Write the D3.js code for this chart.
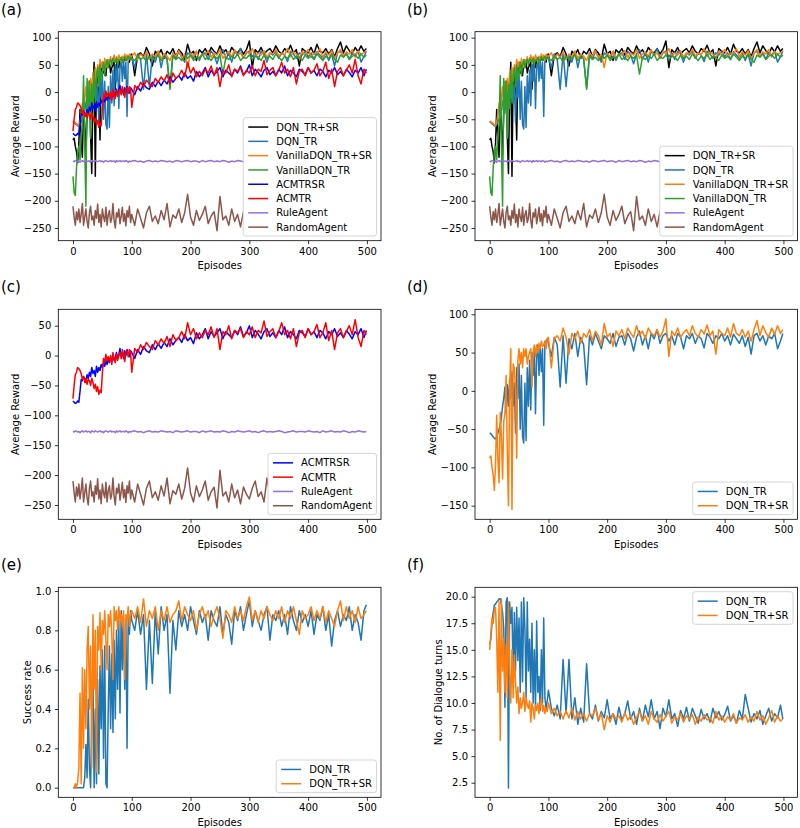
<!DOCTYPE html>
<html><head><meta charset="utf-8">
<script src="https://cdn.jsdelivr.net/npm/d3@7"></script>
<style>
body{margin:0;background:#fff}
svg{display:block}
text{font-family:"DejaVu Sans",sans-serif;fill:#000}
</style>
</head><body>
<svg id="chart" width="800" height="828"></svg>
<script>
// x positions of the samples: every 2 episodes up to 98, then every 5, then the last episode
const episodes = [...d3.range(0, 100, 2), ...d3.range(100, 500, 5), 499];

const dqnTrSr = [
-88,-85,-100,-110,-130,-95,-32,-90,-120,-28,
-60,-115,-40,-30,20,-80,-150,5,55,-155,
35,30,0,-88,40,55,35,50,30,55,
45,55,35,45,50,55,5,50,60,45,
60,50,62,55,65,58,60,65,55,68,
70,30,68,72,65,82,70,48,75,68,
78,62,75,70,80,65,78,72,60,88,
70,75,58,78,72,80,68,82,75,70,
85,72,78,68,82,75,72,80,70,78,
94,45,78,72,82,70,76,80,72,85,
75,70,80,74,86,72,78,48,80,75,
72,82,70,88,75,72,80,70,78,65,
80,92,72,85,76,70,82,74,85,75,
80];
const dqnTr = [
-55,-56,-58,-60,-62,-63,-60,-55,-50,-45,
-35,-20,-10,5,-30,8,-20,15,-10,25,
-20,10,-55,30,-10,35,-50,20,-60,-68,
10,-65,30,-20,40,-25,50,20,55,-30,
45,60,20,60,25,55,-45,60,65,68,
62,45,70,60,5,72,10,68,55,75,
45,70,60,8,72,60,75,65,55,72,
68,62,75,58,70,72,60,75,68,52,
70,78,60,72,55,75,68,80,62,72,
75,65,72,60,75,70,55,72,68,75,
62,72,68,56,75,70,62,72,68,75,
65,72,60,74,68,62,72,58,70,48,
72,75,65,72,60,72,68,75,55,65,
75];
const vanillaTrSr = [
-53,-55,-56,-58,-60,-62,-55,-40,-20,-45,
-10,10,-30,20,-15,25,0,35,10,45,
20,50,35,60,45,55,40,62,50,45,
60,55,65,52,60,68,55,65,58,68,
62,55,66,60,70,62,68,58,70,65,
66,72,60,70,64,74,60,70,65,75,
62,70,66,58,72,66,76,62,70,45,
72,66,75,62,70,68,76,64,72,68,
78,62,70,74,65,78,68,72,62,75,
70,80,65,72,68,76,64,72,70,78,
66,72,68,80,65,74,70,62,75,68,
78,65,72,70,80,64,74,68,76,62,
72,78,66,74,70,78,64,75,70,72,
76];
const vanillaTr = [
-155,-185,-190,-140,-110,-100,-125,-80,-60,30,
-100,-210,25,-40,20,-85,15,-30,40,-20,
30,45,10,50,20,40,55,30,50,60,
45,55,60,50,62,58,55,62,50,60,
58,64,55,60,65,58,62,66,60,64,
62,58,66,60,64,56,66,60,62,68,
58,64,62,5,66,60,64,58,66,62,
68,58,64,62,70,60,64,58,66,62,
68,33,64,60,66,62,70,58,64,62,
68,60,66,64,58,68,62,66,60,70,
64,58,66,62,70,60,66,64,58,68,
62,66,60,70,64,58,66,62,70,60,
55,68,64,70,60,66,68,62,70,64,
68];
const acmtrsr = [
-76,-78,-80,-79,-76,-78,-60,-40,-42,-35,
-40,-45,-32,-38,-28,-35,-20,-30,-25,-35,
-18,-28,-20,-25,-15,-20,-12,-18,-8,-15,
-5,-12,-2,-10,0,-8,-3,5,-5,2,
12,-2,5,-5,8,0,10,3,-2,8,
5,-5,10,2,15,8,5,18,10,20,
12,22,15,28,18,25,30,22,35,25,
30,20,38,28,35,45,28,40,32,38,
45,28,40,35,30,42,35,48,32,38,
50,30,42,36,28,40,45,32,38,30,
42,35,48,30,40,35,28,42,38,32,
45,35,40,30,42,38,28,40,35,45,
32,38,30,42,36,28,40,35,45,30,
42];
const acmtr = [
-72,-50,-32,-28,-20,-22,-25,-30,-40,-35,
-45,-38,-48,-40,-42,-50,-38,-45,-55,-48,
-60,-52,-65,-58,-62,-30,-5,-12,2,-8,
-2,-10,0,-15,5,-5,-12,2,-8,0,
5,-5,10,2,-10,5,8,-2,10,5,
-28,12,5,18,10,22,15,10,25,18,
28,20,32,15,35,25,30,40,28,55,
35,45,28,38,30,42,35,48,30,45,
10,40,35,50,28,42,38,45,30,40,
35,48,30,42,38,58,32,40,45,30,
40,55,35,42,28,45,15,38,42,30,
45,35,40,52,30,38,55,25,42,10,
38,45,30,40,50,35,60,30,15,42,
35];
const ruleAgent = [
-127,-128,-126,-127,-128,-127,-129,-127,-126,-128,
-127,-126,-128,-127,-127,-129,-126,-127,-128,-126,
-127,-128,-127,-126,-128,-127,-129,-127,-126,-127,
-128,-127,-126,-128,-127,-127,-129,-126,-128,-127,
-126,-128,-127,-127,-128,-126,-127,-129,-127,-128,
-127,-126,-128,-127,-129,-127,-126,-128,-127,-128,
-126,-127,-128,-127,-129,-126,-127,-128,-127,-126,
-128,-127,-127,-129,-126,-128,-127,-126,-128,-127,
-128,-126,-127,-129,-127,-128,-126,-127,-128,-127,
-126,-128,-127,-129,-127,-126,-128,-127,-128,-127,
-126,-127,-129,-128,-127,-126,-128,-127,-127,-128,
-126,-127,-128,-127,-129,-126,-128,-127,-126,-128,
-127,-128,-126,-127,-129,-127,-128,-126,-127,-128,
-127];
const randomAgent = [
-210,-230,-245,-220,-235,-215,-240,-225,-205,-245,
-230,-215,-238,-250,-222,-210,-235,-228,-245,-218,
-232,-206,-240,-225,-248,-215,-230,-238,-212,-245,
-226,-218,-240,-232,-205,-236,-250,-222,-230,-215,
-242,-228,-212,-238,-224,-246,-218,-230,-210,-240,
-225,-245,-215,-232,-250,-222,-210,-238,-228,-242,
-218,-235,-205,-248,-226,-232,-215,-240,-222,-188,
-230,-245,-218,-236,-225,-210,-242,-228,-220,-255,
-192,-235,-228,-245,-215,-238,-225,-248,-220,-232,
-240,-222,-210,-236,-228,-245,-205,-232,-250,-218,
-230,-242,-215,-226,-238,-210,-245,-225,-232,-218,
-240,-228,-212,-246,-222,-235,-215,-242,-228,-220,
-236,-210,-245,-225,-232,-218,-240,-226,-214,-238,
-228];
const successDqnTr = [
0,0,0,0,0,0,0,0,0,0,
0.05,0.22,0.05,0.45,0.1,0,0.35,0.55,0,0.4,
0.02,0.55,0.07,0.62,0.3,0.7,0.15,0.72,0.02,0,
0.4,0.72,0.3,0.68,0.28,0.75,0.35,0.8,0.5,0.85,
0.38,0.9,0.6,0.88,0.5,0.85,0.2,0.88,0.78,0.9,
0.85,0.8,0.9,0.78,0.88,0.5,0.85,0.53,0.9,0.68,
0.92,0.8,0.88,0.48,0.85,0.7,0.9,0.82,0.88,0.8,
0.92,0.85,0.78,0.9,0.84,0.88,0.75,0.9,0.85,0.82,
0.92,0.78,0.88,0.84,0.73,0.9,0.85,0.92,0.8,0.88,
0.95,0.82,0.9,0.85,0.8,0.88,0.92,0.75,0.88,0.85,
0.9,0.82,0.88,0.78,0.92,0.85,0.8,0.9,0.84,0.88,
0.82,0.9,0.78,0.88,0.85,0.92,0.8,0.88,0.72,0.85,
0.9,0.82,0.88,0.85,0.92,0.8,0.88,0.84,0.75,0.9,
0.93];
const successDqnTrSr = [
0,0,0.02,0,0.03,0.1,0.48,0.02,0.61,0.2,
0.6,0.3,0.7,0.82,0.4,0.72,0.1,0.88,0.5,0.8,
0.08,0.82,0.7,0.89,0.6,0.85,0.78,0.9,0.75,0.6,
0.88,0.82,0.9,0.78,0.55,0.92,0.85,0.9,0.8,0.92,
0.85,0.88,0.82,0.9,0.55,0.88,0.85,0.92,0.82,0.88,
0.9,0.86,0.92,0.84,0.96,0.82,0.9,0.86,0.92,0.8,
0.9,0.85,0.92,0.84,0.88,0.9,0.95,0.85,0.92,0.88,
0.85,0.9,0.8,0.88,0.92,0.86,0.9,0.82,0.88,0.92,
0.86,0.76,0.9,0.88,0.84,0.92,0.86,0.9,0.85,0.92,
0.97,0.85,0.9,0.84,0.9,0.86,0.92,0.88,0.85,0.9,
0.86,0.92,0.84,0.9,0.86,0.92,0.85,0.78,0.9,0.86,
0.88,0.92,0.85,0.9,0.86,0.92,0.84,0.9,0.86,0.82,
0.9,0.95,0.85,0.92,0.86,0.9,0.84,0.92,0.86,0.88,
0.9];
const turnsDqnTr = [
15.5,16,17.5,18.5,19.2,19.3,19.5,19.6,19.8,19.8,
19.2,18.5,17,9.6,19.5,19.9,2,19.5,17.5,19,
12,18.5,13,19,14,18,11,19.5,12,19.9,
17,10.5,19.5,13,16,11,17.5,10,15,9.5,
17.7,11,12.5,9.3,15,10,18,10.5,9.5,10.2,
11.2,9.5,8.8,9.8,8.5,14.1,9,14.1,8.5,10.5,
8,9.5,8.2,13.7,9,8.5,9.8,8.3,9.2,8.6,
10.3,8.5,9,8,9.6,8.4,9,10.2,8.5,9.2,
8,9.5,8.3,9.8,8.7,10.3,8.5,9.2,7.6,9.5,
8.7,10.3,8.5,9,7.8,9.3,8.5,9.6,8.3,9.5,
8.8,8.1,9.4,8.5,9,8.2,9.5,8.6,9.2,8.4,
8.9,9.7,8.3,8.8,8.1,9.3,8.5,10.8,9.5,8.2,
9,8.5,9.3,8,8.8,9.5,8.3,9,8.6,9.8,
8.5];
const turnsDqnTrSr = [
15,16.5,18,17.5,18.8,19,16,11,19.5,6.5,
19.8,13,16,11,15.5,10.5,19.5,13,10,15,
10.5,14.5,12,10,11.5,9,10.5,9.5,10,11,
9.2,10.5,9.8,9.5,10.2,8.2,10,9.5,8.5,9.8,
9.3,10,9,9.7,10.5,9.2,9.8,9,9.5,9.2,
10,9,9.5,8.8,9.2,8.5,9.3,8.6,9.5,8.4,
9.2,8.5,9,8.3,9,8.8,9.5,8.4,9,7.5,
8.8,8.2,9,8.5,8.8,8.2,9.1,8.4,8.8,8,
8.6,9.2,8.3,8.8,8,9.2,8.5,8.2,8.9,8.3,
8.8,9.2,8.1,8.7,8.4,9,8.2,8.8,8.5,8.9,
8,8.7,8.3,8.9,8.4,8.6,8.1,9.2,8.4,8.8,
8.2,8.7,8.4,9,8.1,8.6,8.4,8.9,8.2,8.7,
8.3,9.2,8.4,8.8,8,8.6,9.3,8.2,8.8,8.3,
8.5];

const xTicks = [0, 100, 200, 300, 400, 500];
const rewardTicksAB = [-250, -200, -150, -100, -50, 0, 50, 100];
const rewardTicksC = [-250, -200, -150, -100, -50, 0, 50];
const rewardTicksD = [-150, -100, -50, 0, 50, 100];
const successTicks = [0, 0.2, 0.4, 0.6, 0.8, 1.0];
const turnTicks = [2.5, 5, 7.5, 10, 12.5, 15, 17.5, 20];

// sanity check of array lengths
const allSeries = {dqnTrSr, dqnTr, vanillaTrSr, vanillaTr, acmtrsr, acmtr, ruleAgent, randomAgent,
  successDqnTr, successDqnTrSr, turnsDqnTr, turnsDqnTrSr};
for (const [k, v] of Object.entries(allSeries)) {
  if (v.length !== episodes.length) throw new Error(k + " length " + v.length + " != " + episodes.length);
}

const C = {
  black: "#000000", tabBlue: "#1f77b4", tabOrange: "#ff7f0e", tabGreen: "#2ca02c",
  blue: "#0000ff", red: "#ff0000", purple: "#9370db", brown: "#8c564b"
};

const S = {
  dqnTrSrK: {name: "DQN_TR+SR", data: dqnTrSr, color: C.black},
  dqnTr: {name: "DQN_TR", data: dqnTr, color: C.tabBlue},
  vanTrSr: {name: "VanillaDQN_TR+SR", data: vanillaTrSr, color: C.tabOrange},
  vanTr: {name: "VanillaDQN_TR", data: vanillaTr, color: C.tabGreen},
  acSr: {name: "ACMTRSR", data: acmtrsr, color: C.blue},
  ac: {name: "ACMTR", data: acmtr, color: C.red},
  rule: {name: "RuleAgent", data: ruleAgent, color: C.purple},
  rand: {name: "RandomAgent", data: randomAgent, color: C.brown},
  dqnTrSrO: {name: "DQN_TR+SR", data: dqnTrSr, color: C.tabOrange}
};

const minus = s => String(s).replace("-", "\u2212");
const L = {left: 58.3, right: 381}, R = {left: 475, right: 797.5};
const rows = [{top: 31.7, bottom: 240.7}, {top: 309.3, bottom: 519.3}, {top: 587.3, bottom: 797.3}];

const panels = [
  {tag: "(a)", col: L, row: rows[0], ydom: [-273.4, 111], yticks: rewardTicksAB, fmt: d => minus(d),
   series: [S.dqnTrSrK, S.dqnTr, S.vanTrSr, S.vanTr, S.acSr, S.ac, S.rule, S.rand],
   legendPos: "lr", ylabel: "Average Reward", ylabOff: 39},
  {tag: "(b)", col: R, row: rows[0], ydom: [-273.4, 111], yticks: rewardTicksAB, fmt: d => minus(d),
   series: [S.dqnTrSrK, S.dqnTr, S.vanTrSr, S.vanTr, S.rule, S.rand],
   legendPos: "lr", ylabel: "Average Reward", ylabOff: 39},
  {tag: "(c)", col: L, row: rows[1], ydom: [-274, 77.4], yticks: rewardTicksC, fmt: d => minus(d),
   series: [S.acSr, S.ac, S.rule, S.rand],
   legendPos: "lr", ylabel: "Average Reward", ylabOff: 39},
  {tag: "(d)", col: R, row: rows[1], ydom: [-167.8, 106.5], yticks: rewardTicksD, fmt: d => minus(d),
   series: [S.dqnTr, S.dqnTrSrO],
   legendPos: "lr", ylabel: "Average Reward", ylabOff: 39},
  {tag: "(e)", col: L, row: rows[2], ydom: [-0.049, 1.019], yticks: successTicks, fmt: d3.format(".1f"),
   series: [{name: "DQN_TR", data: successDqnTr, color: C.tabBlue}, {name: "DQN_TR+SR", data: successDqnTrSr, color: C.tabOrange}],
   legendPos: "lr", ylabel: "Success rate", ylabOff: 27.5},
  {tag: "(f)", col: R, row: rows[2], ydom: [1.13, 20.88], yticks: turnTicks, fmt: d3.format(".1f"),
   series: [{name: "DQN_TR", data: turnsDqnTr, color: C.tabBlue}, {name: "DQN_TR+SR", data: turnsDqnTrSr, color: C.tabOrange}],
   legendPos: "ur", ylabel: "No. of Dialogue turns", ylabOff: 33.5}
];

const svg = d3.select("#chart");
svg.append("rect").attr("width", 800).attr("height", 828).attr("fill", "#fff");
const defs = svg.append("defs");

panels.forEach((p, pi) => {
  const left = p.col.left, right = p.col.right, top = p.row.top, bottom = p.row.bottom;
  const x = d3.scaleLinear().domain([-24.95, 523.95]).range([left, right]);
  const y = d3.scaleLinear().domain(p.ydom).range([bottom, top]);
  const g = svg.append("g");

  // panel tag
  svg.append("text").attr("x", p.col === L ? 1 : 407).attr("y", top - 17)
    .attr("font-size", 15).text(p.tag);

  defs.append("clipPath").attr("id", "clip" + pi).append("rect")
    .attr("x", left).attr("y", top).attr("width", right - left).attr("height", bottom - top);

  const line = d3.line().x((d, i) => x(episodes[i])).y(d => y(d));
  const lg = g.append("g").attr("clip-path", `url(#clip${pi})`);
  p.series.forEach(s => {
    lg.append("path").attr("d", line(s.data)).attr("fill", "none").attr("stroke", s.color)
      .attr("stroke-width", 1.5).attr("stroke-linejoin", "round").attr("stroke-linecap", "butt");
  });

  // axes
  const xa = g.append("g").attr("transform", `translate(0,${bottom})`)
    .call(d3.axisBottom(x).tickValues(xTicks).tickSize(3.5).tickPadding(3.5).tickFormat(d3.format("d")));
  const ya = g.append("g").attr("transform", `translate(${left},0)`)
    .call(d3.axisLeft(y).tickValues(p.yticks).tickSize(3.5).tickPadding(3.5).tickFormat(p.fmt));
  [xa, ya].forEach(a => {
    a.select(".domain").remove();
    a.selectAll("line").attr("stroke", "#000").attr("stroke-width", 0.8);
    a.selectAll("text").attr("font-size", 10).attr("font-family", '"DejaVu Sans", sans-serif').attr("fill", "#000");
  });
  g.append("rect").attr("x", left).attr("y", top).attr("width", right - left).attr("height", bottom - top)
    .attr("fill", "none").attr("stroke", "#000").attr("stroke-width", 0.8);

  // axis labels
  g.append("text").attr("x", (left + right) / 2).attr("y", bottom + 28.5).attr("text-anchor", "middle")
    .attr("font-size", 10).text("Episodes");
  g.append("text").attr("transform", `translate(${left - p.ylabOff},${(top + bottom) / 2}) rotate(-90)`)
    .attr("text-anchor", "middle").attr("font-size", 10).text(p.ylabel);

  // legend
  const n = p.series.length, rowH = 14.3;
  const lgG = g.append("g");
  const tmp = lgG.append("g");
  let maxW = 0;
  p.series.forEach(s => {
    const t = tmp.append("text").attr("font-size", 10).text(s.name);
    maxW = Math.max(maxW, t.node().getComputedTextLength());
  });
  tmp.remove();
  const w = 33 + maxW + 4.5, h = n * rowH + 4;
  const bx = right - 4.5 - w;
  const by = p.legendPos === "ur" ? top + 4.4 : bottom - 4.7 - h;
  lgG.append("rect").attr("x", bx).attr("y", by).attr("width", w).attr("height", h).attr("rx", 2.5)
    .attr("fill", "#fff").attr("stroke", "#cccccc").attr("stroke-width", 0.8);
  p.series.forEach((s, i) => {
    const cy = by + 2 + rowH * (i + 0.5) + 0.3;
    lgG.append("line").attr("x1", bx + 5).attr("x2", bx + 25).attr("y1", cy).attr("y2", cy)
      .attr("stroke", s.color).attr("stroke-width", 1.5);
    lgG.append("text").attr("x", bx + 33).attr("y", cy + 3.6).attr("font-size", 10).text(s.name);
  });
});
</script>
</body></html>
